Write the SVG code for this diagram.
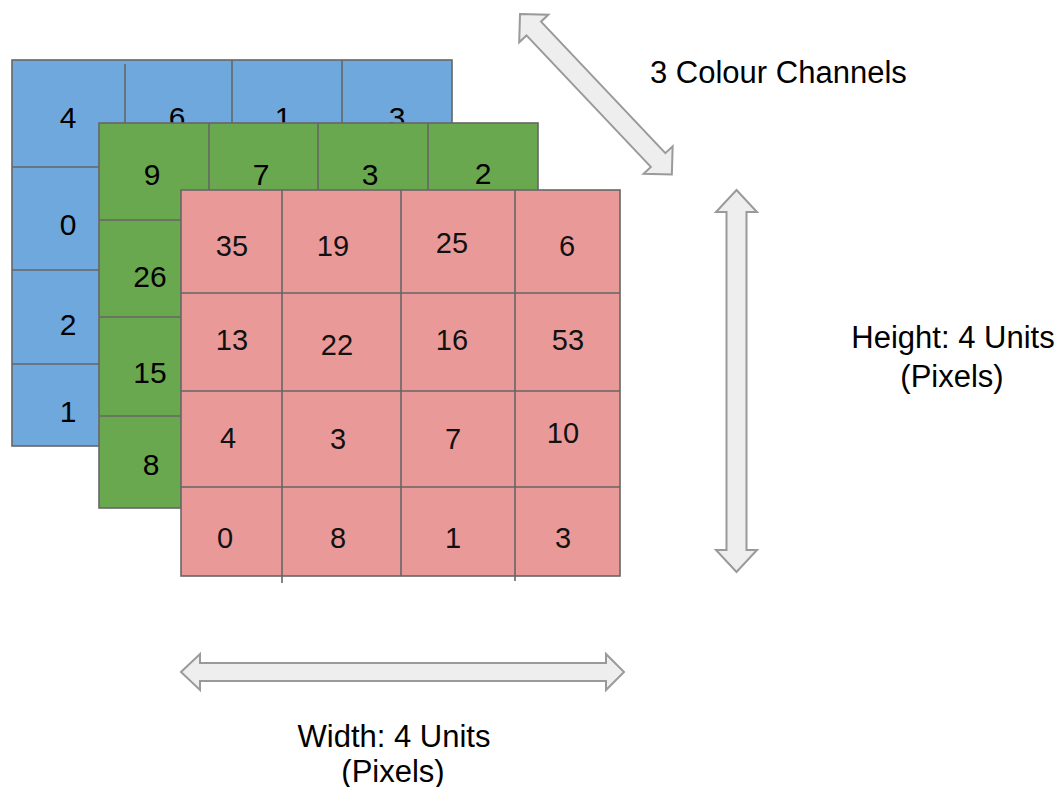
<svg xmlns="http://www.w3.org/2000/svg" width="1059" height="787" viewBox="0 0 1059 787">
<style>
.grid{stroke:#666666;stroke-width:1.6;fill:none}
.blue{fill:#6fa8dc;stroke:#666666;stroke-width:1.6}
.green{fill:#6aa84f;stroke:#666666;stroke-width:1.6}
.red{fill:#ea9999;stroke:#666666;stroke-width:1.6}
.num{font-family:"Liberation Sans",Arial,sans-serif;font-size:30px;fill:#000;text-anchor:middle}
.rnum{font-family:"Liberation Sans",Arial,sans-serif;font-size:29px;fill:#111;text-anchor:middle}
.lbl{font-family:"Liberation Sans",Arial,sans-serif;font-size:31px;fill:#000}
.arrow{fill:#eeeeee;stroke:#9a9a9a;stroke-width:2;stroke-linejoin:miter}
</style>
<rect width="1059" height="787" fill="#ffffff"/>

<g id="channel-blue">
<rect class="blue" x="12" y="60" width="440" height="386"/>
<path class="grid" d="M125 64V446M232 60V446M342 60V446M12 167H452M12 270H452M12 364H452"/>
<text class="num" x="68" y="128">4</text>
<text class="num" x="177" y="128">6</text>
<text class="num" x="283" y="128">1</text>
<text class="num" x="397" y="128">3</text>
<text class="num" x="68" y="235">0</text>
<text class="num" x="68" y="335">2</text>
<text class="num" x="68" y="422">1</text>
</g>

<g id="channel-green">
<rect class="green" x="99" y="123" width="439" height="385"/>
<path class="grid" d="M209 123V508M318 123V508M428 123V508M99 220H538M99 317H538M99 416H538"/>
<text class="num" x="152" y="185">9</text>
<text class="num" x="261" y="185">7</text>
<text class="num" x="370" y="185">3</text>
<text class="num" x="483" y="184">2</text>
<text class="num" x="150" y="287">26</text>
<text class="num" x="150" y="383">15</text>
<text class="num" x="151" y="475">8</text>
</g>

<g id="channel-red">
<rect class="red" x="181" y="190" width="439" height="386"/>
<path class="grid" d="M282 190V583M401 190V576M515 190V581M181 293H620M181 391H620M181 487H620"/>
<text class="rnum" x="232" y="256">35</text>
<text class="rnum" x="333" y="256">19</text>
<text class="rnum" x="452" y="253">25</text>
<text class="rnum" x="567" y="256">6</text>
<text class="rnum" x="232" y="350">13</text>
<text class="rnum" x="337" y="355">22</text>
<text class="rnum" x="452" y="350">16</text>
<text class="rnum" x="568" y="350">53</text>
<text class="rnum" x="228" y="448">4</text>
<text class="rnum" x="338" y="449">3</text>
<text class="rnum" x="453" y="449">7</text>
<text class="rnum" x="563" y="443">10</text>
<text class="rnum" x="225" y="548">0</text>
<text class="rnum" x="338" y="548">8</text>
<text class="rnum" x="453" y="548">1</text>
<text class="rnum" x="563" y="548">3</text>
</g>

<g id="connectors">
<path class="arrow" transform="translate(520,14) rotate(46.6)" d="M0 0L20 -20L20 -10L201 -10L201 -20L221 0L201 20L201 10L20 10L20 20Z"/>
<path class="arrow" transform="translate(736.5,190) rotate(90)" d="M0 0L22 -20.5L22 -10L360 -10L360 -20.5L382 0L360 20.5L360 10L22 10L22 20.5Z"/>
<path class="arrow" d="M181 672L200 654L200 663L606 663L606 654L624 672L606 690L606 681L200 681L200 690Z"/>
</g>

<g id="label-channels">
<text class="lbl" x="650" y="83">3 Colour Channels</text>
</g>
<g id="label-height">
<text class="lbl" x="953" y="348" text-anchor="middle">Height: 4 Units</text>
<text class="lbl" x="952" y="387" text-anchor="middle">(Pixels)</text>
</g>
<g id="label-width">
<text class="lbl" x="394" y="747" text-anchor="middle">Width: 4 Units</text>
<text class="lbl" x="393" y="782" text-anchor="middle">(Pixels)</text>
</g>
</svg>
